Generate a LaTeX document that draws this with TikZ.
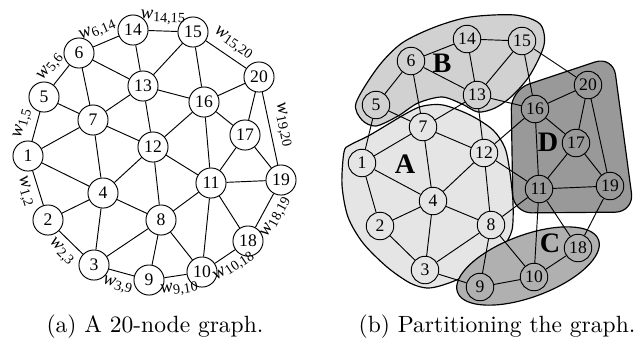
\documentclass[tikz,border=0pt]{standalone}
\usepackage{fontspec}
\usepackage{xcolor}
\newfontfamily\tms{Liberation Serif}
\newcommand{\wt}[1]{\textit{w}\textsubscript{#1}}
\definecolor{partA}{gray}{0.90}
\definecolor{partB}{gray}{0.82}
\definecolor{partC}{gray}{0.69}
\definecolor{partD}{gray}{0.60}
\tikzset{
  vtx/.style={circle,draw,inner sep=0pt,minimum size=12.8pt,font=\tms\fontsize{7.5}{8}\selectfont},
  svtx/.style={vtx,minimum size=11.7pt},
  wlab/.style={sloped,inner sep=2.6pt,font=\tms\fontsize{8}{9}\selectfont},
  part/.style={draw,line width=0.5pt},
  plab/.style={inner sep=0pt,font=\tms\fontsize{12}{12}\selectfont\bfseries}
}
\begin{document}
\begin{tikzpicture}[x=0.4255pt,y=-0.4255pt]
\useasboundingbox (0,0) rectangle (644,341);
% (a) the graph
\foreach \n/\x/\y in {1/28/156,2/48/220,3/94/265,4/103/193,5/44/97,6/79/53,7/93/120,8/161/220,9/149/280,10/202/272,
  11/211/183,12/153/147,13/143/86,14/133/30,15/193/32,16/204/102,17/245/135,18/248/241,19/281/180,20/259/77}
  \node[vtx] (a\n) at (\x,\y) {\n};
\foreach \i/\j in {14/13,15/13,15/16,6/13,6/7,5/7,13/7,13/16,13/12,16/20,16/12,16/17,16/11,20/17,17/11,17/19,
  7/1,7/12,7/4,12/4,12/8,12/11,1/4,2/4,4/3,4/8,3/8,8/9,8/10,8/11,10/11,11/19,11/18}
  \draw (a\i) -- (a\j);
\draw (a1) -- node[wlab,above] {\wt{1,5}} (a5);
\draw (a5) -- node[wlab,above] {\wt{5,6}} (a6);
\draw (a6) -- node[wlab,above,pos=0.4] {\wt{6,14}} (a14);
\draw (a14) -- node[wlab,above] {\wt{14,15}} (a15);
\draw (a15) -- node[wlab,above] {\wt{15,20}} (a20);
\draw (a20) -- node[wlab,above] {\wt{19,20}} (a19);
\draw (a18) -- node[wlab,below] {\wt{18,19}} (a19);
\draw (a10) -- node[wlab,below,pos=0.6] {\wt{10,18}} (a18);
\draw (a9) -- node[wlab,below,pos=0.6] {\wt{9,10}} (a10);
\draw (a3) -- node[wlab,below] {\wt{3,9}} (a9);
\draw (a2) -- node[wlab,below] {\wt{2,3}} (a3);
\draw (a1) -- node[wlab,below] {\wt{1,2}} (a2);
\node (capa) at (155,327) {(a) A 20-node graph.};
% (b) the partitions
\draw[part,fill=partA] plot[smooth cycle,tension=0.5] coordinates {(344,152) (350,145) (370,135) (407,113) (423,106)
  (443,105) (470,115) (493,130) (505,148) (510,173) (513,203) (512,230) (503,247) (487,262) (463,277) (443,285)
  (427,288) (410,283) (387,267) (363,243) (348,217) (342,185)};
\draw[part,fill=partB] plot[smooth cycle,tension=0.5] coordinates {(356,103) (362,120) (376,126) (398,116) (418,103)
  (442,97) (462,104) (478,112) (495,108) (512,96) (530,75) (544,45) (540,24) (515,15) (470,17) (435,27) (402,43) (378,67)};
\draw[part,fill=partD,rounded corners=8pt] (511,90) -- (613,56) -- (634,212) -- (513,213) -- cycle;
\draw[part,fill=partC,rotate around={20.4:(528,266)}] (528,266) ellipse [x radius=32pt,y radius=13.2pt];
\foreach \n/\x/\y in {1/362/163,2/380/226,3/425/270,4/433/201,5/376/105,6/411/61,7/423/127,8/491/225,9/480/287,10/534/277,
  11/539/189,12/484/153,13/477/95,14/467/39,15/522/41,16/535/109,17/576/143,18/578/248,19/610/186,20/588/85}
  \node[svtx] (b\n) at (\x,\y) {\n};
\foreach \i/\j in {14/13,15/13,15/16,6/13,6/7,5/7,13/7,13/16,13/12,16/20,16/12,16/17,16/11,20/17,17/11,17/19,
  7/1,7/12,7/4,12/4,12/8,12/11,1/4,2/4,4/3,4/8,3/8,8/9,8/10,8/11,10/11,11/19,11/18,
  1/5,5/6,6/14,14/15,15/20,20/19,18/19,10/18,9/10,3/9,2/3,1/2}
  \draw (b\i) -- (b\j);
\node[plab] (labA) at (405,164) {A};
\node[plab] (labB) at (442,63) {B};
\node[plab] (labC) at (550,243) {C};
\node[plab] (labD) at (548,142) {D};
\node (capb) at (497,327) {(b) Partitioning the graph.};
\end{tikzpicture}
\end{document}
